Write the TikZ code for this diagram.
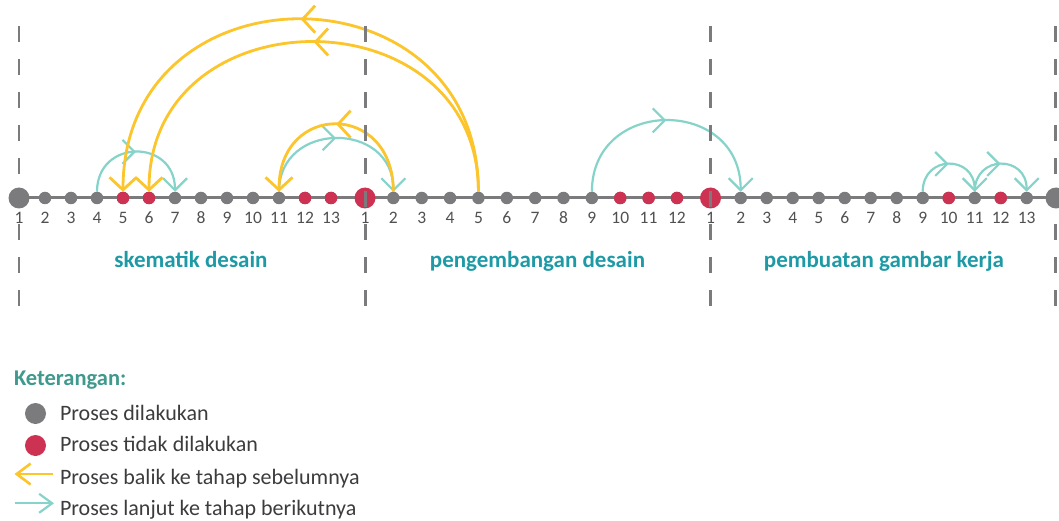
\documentclass[tikz,border=0pt]{standalone}
\usepackage{fontspec}
\setmainfont{Carlito}
\usetikzlibrary{arrows.meta,decorations.markings}

\definecolor{dotgray}{HTML}{7B7B7E}
\definecolor{dotred}{HTML}{CD3253}
\definecolor{backyellow}{HTML}{FBC52B}
\definecolor{fwdteal}{HTML}{86D3C9}
\definecolor{phaseteal}{HTML}{1D9AA5}
\definecolor{legendteal}{HTML}{40998D}
\definecolor{numgray}{HTML}{505052}
\definecolor{textgray}{HTML}{3C3C3E}

\tikzset{
  every node/.style={inner sep=0pt, outer sep=0pt},
  stage/.style={circle, fill=dotgray, minimum size=12.5pt},
  bigstage/.style={circle, fill=dotgray, minimum size=21pt},
  notdone/.style={fill=dotred},
  num/.style={font=\fontsize{17.5}{17.5}\selectfont, text=numgray, anchor=base},
  phase/.style={font=\fontsize{23}{23}\selectfont\bfseries, text=phaseteal, anchor=base},
  legendtext/.style={font=\fontsize{22}{22}\selectfont, text=textgray, anchor=base west},
  back/.style={draw=backyellow, line width=2.8pt,
    -{Straight Barb[length=12.5pt,width=27pt]},
    postaction={decorate},
    decoration={markings, mark=at position 0.5 with {\arrow{Straight Barb[length=12.5pt,width=27pt]}}}},
  fwd/.style={draw=fwdteal, line width=2.2pt,
    -{Straight Barb[length=12pt,width=24pt]},
    postaction={decorate},
    decoration={markings, mark=at position 0.5 with {\arrow{Straight Barb[length=12pt,width=24pt]}}}},
  divider/.style={draw=dotgray, line width=2.8pt, dash pattern=on 16pt off 17pt},
}

\begin{document}
\begin{tikzpicture}[x=1pt,y=1pt]
\useasboundingbox (0,0) rectangle (1059,520);

% timeline axis
\coordinate (axisL) at (19,322);
\coordinate (axisR) at (1056,322);
\draw[dotgray, line width=3pt] (axisL) -- (axisR);

% phase 1: skematik desain
\node[bigstage] (a1) at (19,322) {};
\foreach \i in {2,...,13} {
  \node[stage] (a\i) at ({19+26*(\i-1)},322) {};
}
\foreach \i in {5,6,12,13} { \node[stage,notdone] at (a\i) {}; }

% phase 2: pengembangan desain
\node[bigstage,notdone] (b1) at (365,322) {};
\foreach \i in {2,...,12} {
  \node[stage] (b\i) at ({365+28.36*(\i-1)},322) {};
}
\foreach \i in {10,11,12} { \node[stage,notdone] at (b\i) {}; }

% phase 3: pembuatan gambar kerja
\node[bigstage,notdone] (c1) at (710.5,322) {};
\foreach \i in {2,...,13} {
  \node[stage] (c\i) at ({740.7+26*(\i-2)},322) {};
}
\foreach \i in {10,12} { \node[stage,notdone] at (c\i) {}; }
\node[bigstage] (cend) at (1056,322) {};

% step numbers
\foreach \i in {1,...,13} { \node[num] (na\i) at ([yshift=-26pt]a\i.center) {\i}; }
\foreach \i in {1,...,12} { \node[num] (nb\i) at ([yshift=-26pt]b\i.center) {\i}; }
\foreach \i in {1,...,13} { \node[num] (nc\i) at ([yshift=-26pt]c\i.center) {\i}; }

% phase titles
\node[phase] (p1) at (191,253) {skematik desain};
\node[phase] (p2) at (537.5,253) {pengembangan desain};
\node[phase] (p3) at (884,253) {pembuatan gambar kerja};

% forward jumps
\draw[fwd] (a4.north) to[out=90,in=90,looseness=1.75] (a7.north);
\draw[fwd] (a11.north) to[out=90,in=90,looseness=1.6] (b2.north);
\draw[fwd] (b9.north) to[out=90,in=90,looseness=1.64] (c2.north);
\draw[fwd] (c9.north) to[out=90,in=90,looseness=1.83] (c11.north);
\draw[fwd] (c11.north) to[out=90,in=90,looseness=1.83] (c13.north);

% backward jumps
\draw[back] (b5.north) to[out=90,in=90,looseness=1.66] (a5.north);
\draw[back] (b5.north) to[out=90,in=90,looseness=1.555] (a6.north);
\draw[back] (b2.north) to[out=90,in=90,looseness=2.02] (a11.north);

% phase dividers
\foreach \x/\n in {19/d0,365.5/d1,710.5/d2,1055.7/d3} {
  \coordinate (\n top) at (\x,494);
  \coordinate (\n bot) at (\x,213);
  \draw[divider] (\n top) -- (\n bot);
}

% legend
\node[anchor=base west, font=\fontsize{22.5}{22.5}\selectfont\bfseries, text=legendteal] (ket) at (14,135) {Keterangan:};
\node[bigstage] (lgdone) at (35.5,106.5) {};
\node[bigstage,notdone] (lgskip) at (35.5,74.5) {};
\node[legendtext] (tdone) at (60,99.3) {Proses dilakukan};
\node[legendtext] (tskip) at (60,68.3) {Proses tidak dilakukan};
\coordinate (ybeg) at (53,46);
\coordinate (yend) at (14.5,46);
\draw[draw=backyellow, line width=2.6pt, -{Straight Barb[length=14pt,width=21pt]}] (ybeg) -- (yend);
\node[legendtext] (tback) at (60,36) {Proses balik ke tahap sebelumnya};
\coordinate (tbeg) at (14.5,16.7);
\coordinate (tend) at (54,16.7);
\draw[draw=fwdteal, line width=2.2pt, -{Straight Barb[length=13pt,width=19pt]}] (tbeg) -- (tend);
\node[legendtext] (tfwd) at (60,5) {Proses lanjut ke tahap berikutnya};
\end{tikzpicture}
\end{document}
